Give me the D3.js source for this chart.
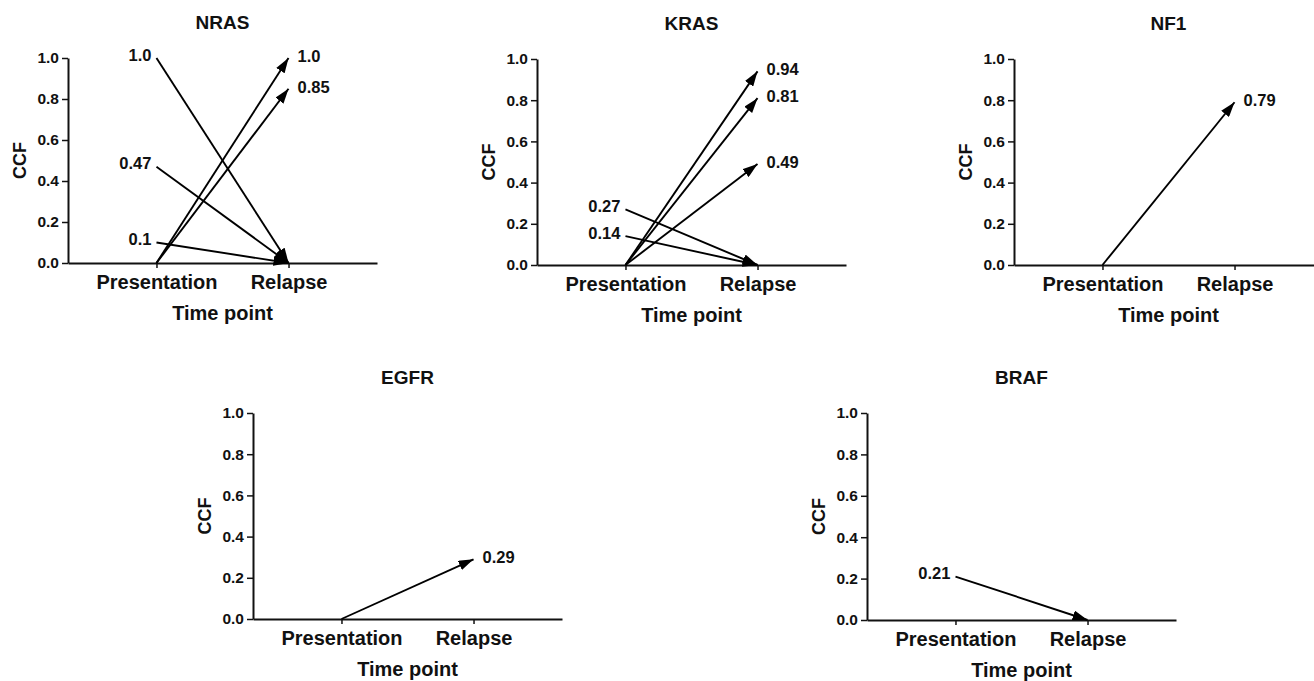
<html>
<head>
<title>CCF by time point</title>
<script src="https://cdnjs.cloudflare.com/ajax/libs/d3/7.8.5/d3.min.js"></script>
<style>
  body { margin: 0; background: #fff; }
  svg text { font-family: "Liberation Sans", Arial, sans-serif; font-weight: bold; fill: #111; }
</style>
</head>
<body>
<div id="chart"></div>
<script>
// data: each pair is [CCF at presentation, CCF at relapse]
var genes = ["NRAS", "KRAS", "NF1", "EGFR", "BRAF"];
var timePoints = ["Presentation", "Relapse"];
var yTicks = [0, 0.2, 0.4, 0.6, 0.8, 1.0];

var nrasCCF = [[1.0, 0], [0.47, 0], [0.1, 0], [0, 1.0], [0, 0.85]];
var krasCCF = [[0, 0.94], [0, 0.81], [0, 0.49], [0.27, 0], [0.14, 0]];
var nf1CCF  = [[0, 0.79]];
var egfrCCF = [[0, 0.29]];
var brafCCF = [[0.21, 0]];

var ccfByGene = [nrasCCF, krasCCF, nf1CCF, egfrCCF, brafCCF];

// layout of the five panels (left edge of axis, top and bottom of y range)
var panels = [
  {x0: 68,  top: 58,  bottom: 263},
  {x0: 537, top: 59,  bottom: 265},
  {x0: 1014, top: 59, bottom: 265},
  {x0: 253, top: 413, bottom: 619},
  {x0: 867, top: 413, bottom: 620}
];
var axisWidth = 309;

var width = 1314, height = 681;
var svg = d3.select("#chart").append("svg")
  .attr("width", width)
  .attr("height", height);

// arrow head
svg.append("defs").append("marker")
  .attr("id", "arrow")
  .attr("markerUnits", "userSpaceOnUse")
  .attr("viewBox", "0 0 15 10")
  .attr("refX", 15)
  .attr("refY", 5)
  .attr("markerWidth", 15)
  .attr("markerHeight", 10)
  .attr("orient", "auto")
  .append("path")
  .attr("d", "M0,0 L15,5 L0,10 Z")
  .attr("fill", "#000");

function fmt(v) {
  return Number.isInteger(v) ? v.toFixed(1) : String(v);
}

genes.forEach(function(gene, gi) {
  var p = panels[gi];
  var rows = ccfByGene[gi];

  var x = d3.scalePoint().domain(timePoints)
    .range([p.x0, p.x0 + axisWidth]).padding(0.67);
  var y = d3.scaleLinear().domain([0, 1]).range([p.bottom, p.top]);

  var g = svg.append("g");

  // title
  g.append("text")
    .attr("x", p.x0 + axisWidth / 2)
    .attr("y", p.top - 29)
    .attr("text-anchor", "middle")
    .style("font-size", "19px")
    .text(gene);

  // y axis
  var ya = g.append("g")
    .attr("transform", "translate(" + p.x0 + ",0)")
    .call(d3.axisLeft(y).tickValues(yTicks).tickFormat(d3.format(".1f"))
      .tickSize(6).tickSizeOuter(0).tickPadding(3));
  ya.selectAll("text").style("font-size", "15.5px");

  // x axis
  var xa = g.append("g")
    .attr("transform", "translate(0," + p.bottom + ")")
    .call(d3.axisBottom(x).tickSize(5).tickSizeOuter(0).tickPadding(7));
  xa.selectAll("text").style("font-size", "20px");

  g.selectAll(".domain").attr("stroke", "#111").attr("stroke-width", 2);
  g.selectAll(".tick line").attr("stroke", "#111").attr("stroke-width", 1.5);
  g.selectAll(".tick text").attr("fill", "#111");

  // axis titles
  g.append("text")
    .attr("x", p.x0 + axisWidth / 2)
    .attr("y", p.bottom + 57)
    .attr("text-anchor", "middle")
    .style("font-size", "20px")
    .text("Time point");

  g.append("text")
    .attr("transform", "translate(" + (p.x0 - 42) + "," + ((p.top + p.bottom) / 2) + ") rotate(-90)")
    .attr("text-anchor", "middle")
    .style("font-size", "18px")
    .text("CCF");

  // arrows
  g.selectAll("line.arrow").data(rows).enter()
    .append("line")
    .attr("class", "arrow")
    .attr("x1", x(timePoints[0]))
    .attr("y1", function(d) { return y(d[0]); })
    .attr("x2", x(timePoints[1]))
    .attr("y2", function(d) { return y(d[1]); })
    .attr("stroke", "#000")
    .attr("stroke-width", 1.9)
    .attr("marker-end", "url(#arrow)");

  // value labels at start (presentation) when non-zero
  g.selectAll("text.start").data(rows.filter(function(d) { return d[0] > 0; })).enter()
    .append("text")
    .attr("class", "start")
    .attr("x", x(timePoints[0]) - 5)
    .attr("y", function(d) { return y(d[0]) - 3; })
    .attr("dy", "0.35em")
    .attr("text-anchor", "end")
    .style("font-size", "16.5px")
    .text(function(d) { return fmt(d[0]); });

  // value labels at end (relapse) when non-zero
  g.selectAll("text.end").data(rows.filter(function(d) { return d[1] > 0; })).enter()
    .append("text")
    .attr("class", "end")
    .attr("x", x(timePoints[1]) + 9)
    .attr("y", function(d) { return y(d[1]) - 2; })
    .attr("dy", "0.35em")
    .style("font-size", "16.5px")
    .text(function(d) { return fmt(d[1]); });
});
</script>
</body>
</html>
